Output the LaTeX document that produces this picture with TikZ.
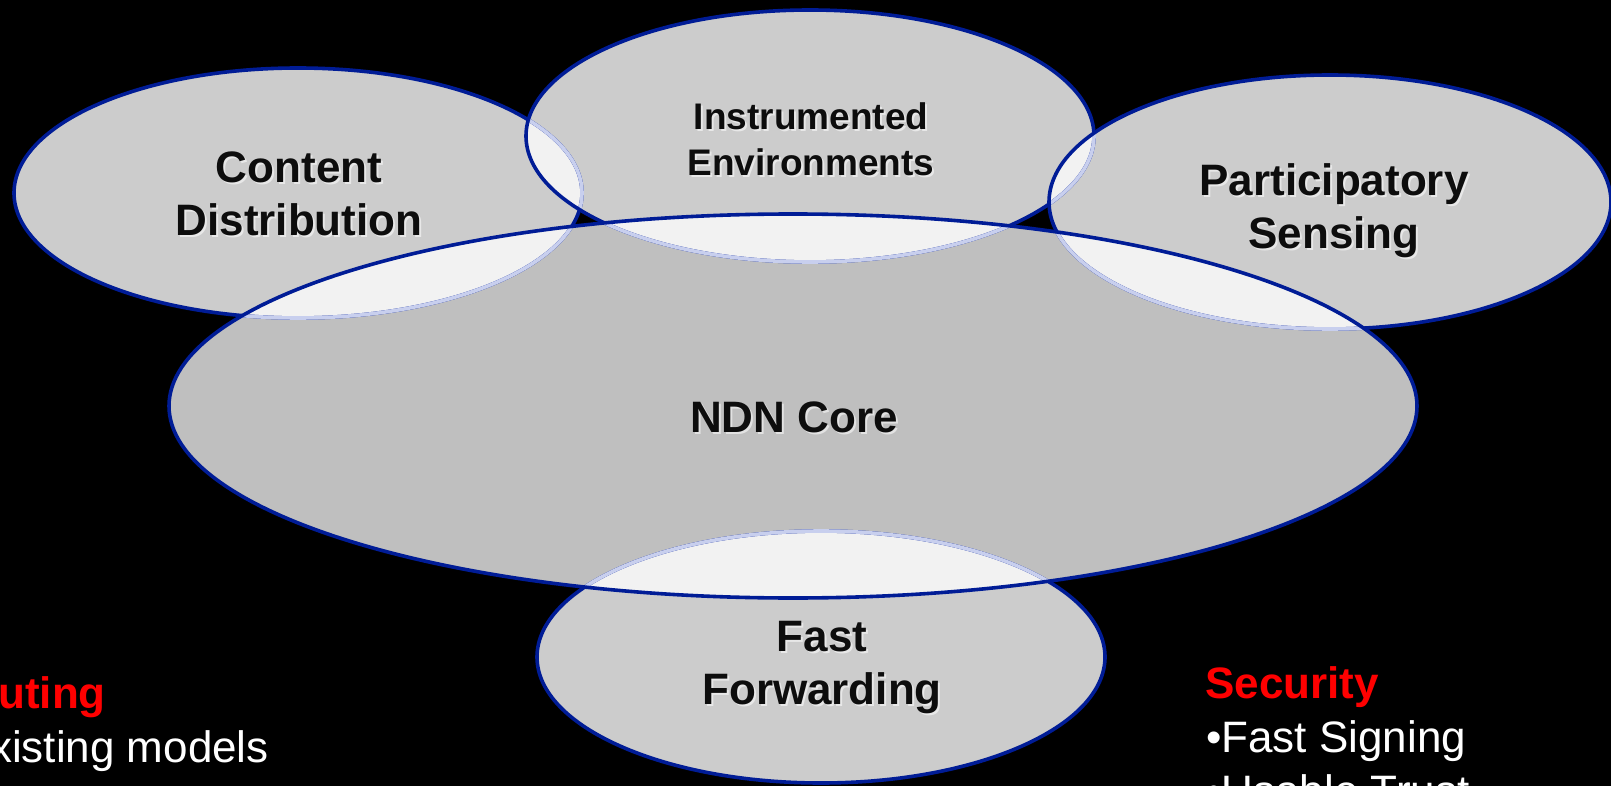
\documentclass[tikz,border=0pt]{standalone}
\usepackage{fontspec}
\setmainfont{Liberation Sans}
\usetikzlibrary{calc}

\definecolor{rim}{RGB}{0,28,150}
\definecolor{rimpale}{RGB}{200,207,238}
\definecolor{lobe}{RGB}{204,204,204}
\definecolor{corefill}{RGB}{191,191,191}
\definecolor{overlap}{RGB}{242,242,242}
\definecolor{ink}{RGB}{13,13,13}

% the five areas (centre, radii in pt; y grows downwards)
\newcommand\pContent{(298,193) ellipse [x radius=284pt, y radius=125pt]}
\newcommand\pInstr{(810,136) ellipse [x radius=284pt, y radius=126pt]}
\newcommand\pPart{(1330,202) ellipse [x radius=281pt, y radius=127pt]}
\newcommand\pFast{(821,657) ellipse [x radius=284pt, y radius=126pt]}
\newcommand\pCore{(793,406) ellipse [x radius=624pt, y radius=192pt]}

\tikzset{
  lbl/.style={font=\bfseries\fontsize{44}{53}\selectfont, text=ink, align=center, inner sep=0pt},
  lblsmall/.style={lbl, font=\bfseries\fontsize{37}{46}\selectfont},
  glow/.style={text=white, opacity=0.55},
  rimline/.style={draw=rim, line width=3.6pt},
  rimfaint/.style={draw=rimpale, line width=3.6pt},
  head/.style={font=\bfseries\fontsize{44}{53}\selectfont, text=red, inner sep=0pt},
  item/.style={font=\fontsize{44}{53}\selectfont, text=white, inner sep=0pt},
}

% label with a soft light shadow behind it
\newcommand\softlabel[4]{%
  \node[#1, glow] at ($#3+(2,2)$) {#4};
  \node[#1] (#2) at #3 {#4};}

\begin{document}
\begin{tikzpicture}[x=1pt,y=-1pt]
\useasboundingbox (0,0) rectangle (1611,786);
\clip (0,0) rectangle (1611,786);
\fill[black] (0,0) rectangle (1611,786);

% plain areas
\fill[lobe] \pContent;
\fill[lobe] \pInstr;
\fill[lobe] \pPart;
\fill[lobe] \pFast;
\fill[corefill] \pCore;

% where two areas meet
\begin{scope}\clip \pContent; \fill[overlap] \pInstr; \fill[overlap] \pCore; \end{scope}
\begin{scope}\clip \pInstr; \fill[overlap] \pPart; \fill[overlap] \pCore; \end{scope}
\begin{scope}\clip \pPart; \fill[overlap] \pCore; \end{scope}
\begin{scope}\clip \pFast; \fill[overlap] \pCore; \end{scope}

% where three areas meet
\begin{scope}\clip \pContent; \clip \pInstr; \fill[black] \pCore; \end{scope}
\begin{scope}\clip \pInstr; \clip \pPart; \fill[black] \pCore; \end{scope}

% outlines, lower ones fade under the ones above
\draw[rimline] \pContent;
\begin{scope}\clip \pInstr; \draw[rimfaint] \pContent; \end{scope}
\begin{scope}\clip \pCore; \draw[rimfaint] \pContent; \end{scope}
\draw[rimline] \pInstr;
\begin{scope}\clip \pPart; \draw[rimfaint] \pInstr; \end{scope}
\begin{scope}\clip \pCore; \draw[rimfaint] \pInstr; \end{scope}
\draw[rimline] \pPart;
\begin{scope}\clip \pCore; \draw[rimfaint] \pPart; \end{scope}
\draw[rimline] \pFast;
\begin{scope}\clip \pCore; \draw[rimfaint] \pFast; \end{scope}
\draw[rimline] \pCore;

% area labels
\softlabel{lbl}{content}{(299,194)}{Content\\Distribution}
\softlabel{lblsmall}{instr}{(811,139)}{Instrumented\\Environments}
\softlabel{lbl}{part}{(1334,211)}{Participatory\\Sensing}
\softlabel{lbl, anchor=base}{core}{(794,432)}{NDN Core}
\softlabel{lbl}{fast}{(822,668)}{Fast\\Forwarding}

% side notes
\node[head, anchor=base east] (routing) at (106,708) {Routing};
\node[item, anchor=base east] (routingitem) at (269,762) {•Existing models};
\node[head, anchor=base west] (security) at (1205,698) {Security};
\node[item, anchor=base west] (signing) at (1206,752) {•Fast Signing};
\node[item, anchor=base west] (trust) at (1206,806) {•Usable Trust};
\end{tikzpicture}
\end{document}
